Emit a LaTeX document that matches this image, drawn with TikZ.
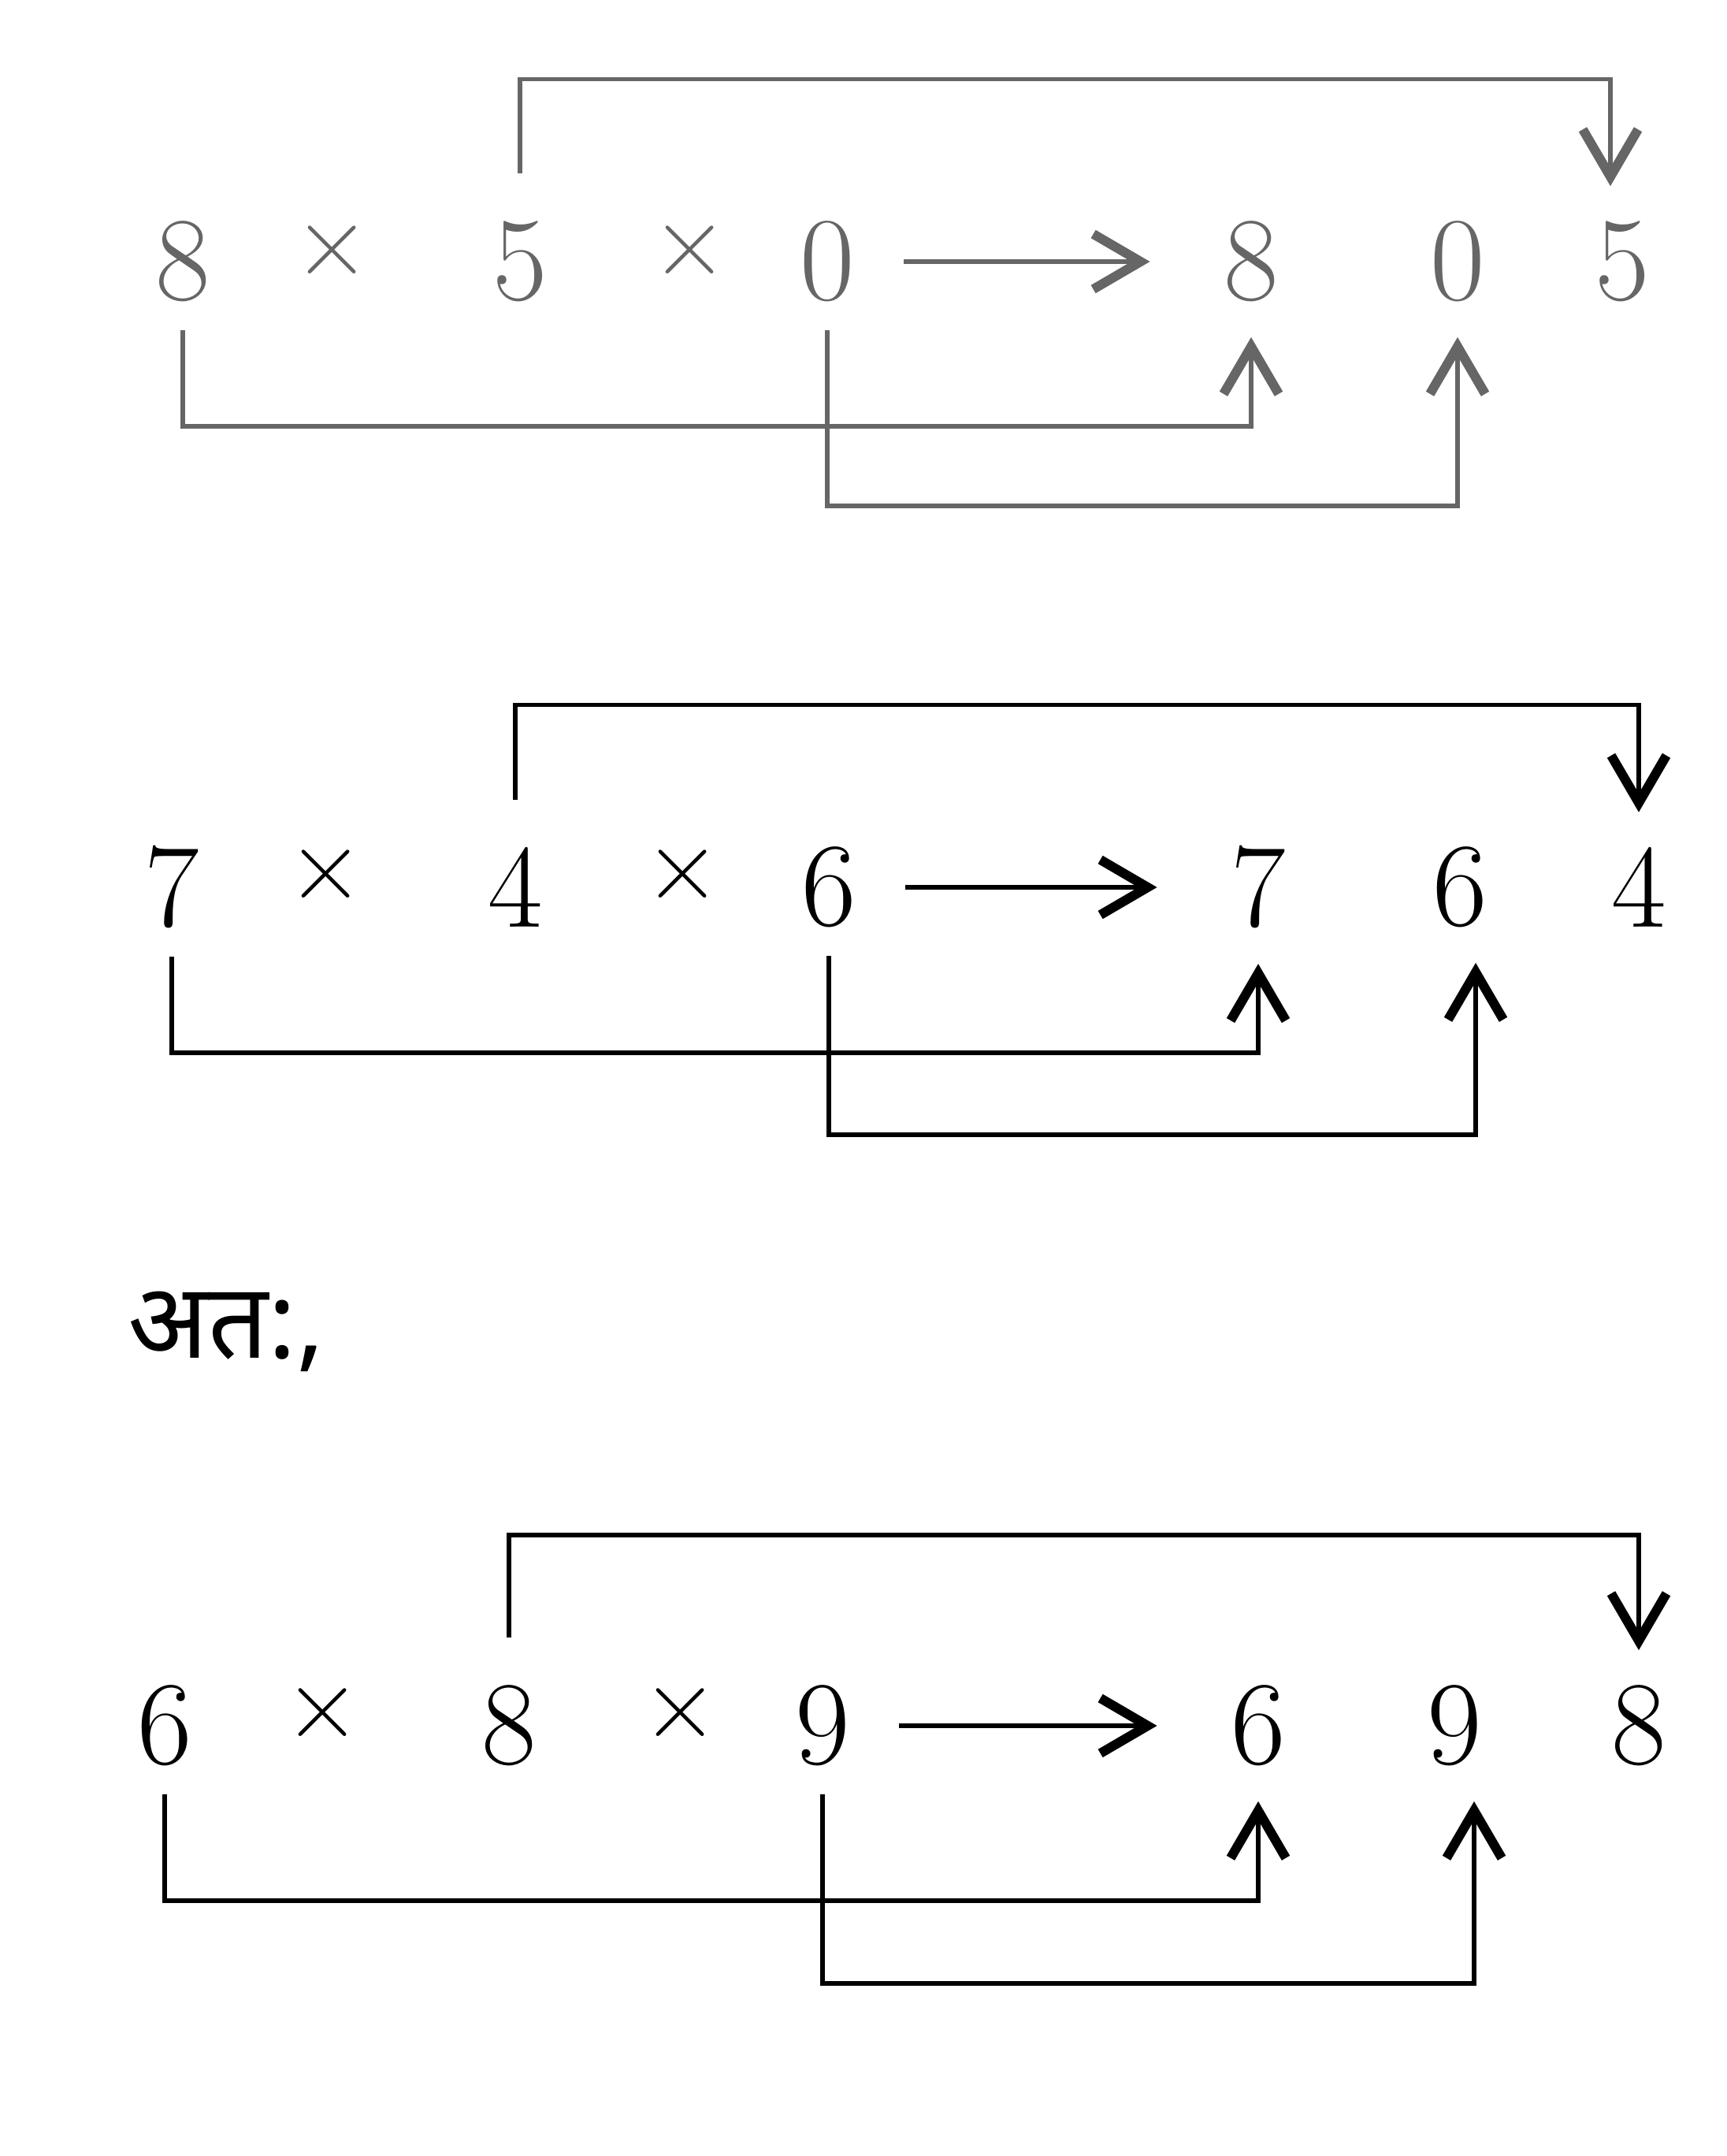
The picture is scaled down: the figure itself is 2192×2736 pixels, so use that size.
\documentclass[tikz,border=0pt]{standalone}
\usepackage{fontspec}
\newfontfamily\hindifont[Script=Devanagari]{Noto Sans}
\usetikzlibrary{arrows.meta}
\begin{document}
\begin{tikzpicture}[x=0.01cm,y=-0.01cm,
  dig/.style={inner sep=0pt,font=\fontsize{43}{45}\selectfont},
  mul/.style={inner sep=0pt,font=\fontsize{38}{40}\selectfont},
  ln/.style={line width=1.5pt},
  tip/.style={-{Straight Barb[length=6mm,width=7mm,line width=3.4pt]}},
  mainarrow/.style={ln,tip,shorten <=0.62cm,shorten >=0.93cm},
  topbr/.style={ln,tip,shorten <=0.6cm,shorten >=0.44cm},
  botbr/.style={ln,tip,shorten <=0.35cm,shorten >=0.44cm},
  faded/.style={black!60}]
\useasboundingbox (0,0) rectangle (2192,2736);

% ---------- row 1 ----------
\begin{scope}[faded]
\node[dig] (a1) at (232,332) {8};
\node[mul] (m1) at (422,318) {×};
\node[dig] (a2) at (660,332) {5};
\node[mul] (m2) at (876,318) {×};
\node[dig] (a3) at (1050,332) {0};
\node[dig] (r1) at (1588,332) {8};
\node[dig] (r2) at (1850,332) {0};
\node[dig] (r3) at (2059,332) {5};
\draw[mainarrow] (a3.east) -- (r1.west);
\draw[topbr] (a2.north) -- ++(0,-180) -| ([xshift=-0.15cm]r3.north);
\draw[botbr] (a1.south) -- ++(0,157) -| (r1.south);
\draw[botbr] (a3.south) -- ++(0,258) -| (r2.south);
\end{scope}

% ---------- row 2 ----------
\node[dig] (b1) at (218,1126) {7};
\node[mul] (n1) at (414,1110) {×};
\node[dig] (b2) at (654,1126) {4};
\node[mul] (n2) at (867,1110) {×};
\node[dig] (b3) at (1052,1126) {6};
\node[dig] (s1) at (1597,1126) {7};
\node[dig] (s2) at (1853,1126) {6};
\node[dig] (s3) at (2080,1126) {4};
\draw[mainarrow] (b3.east) -- (s1.west);
\draw[topbr] (b2.north) -- ++(0,-180) -| (s3.north);
\draw[botbr] (b1.south) -- ++(0,157) -| (s1.south);
\draw[botbr] (b3.south) -- ++(0,262) -| ([xshift=0.2cm]s2.south);

% ---------- text ----------
\node[anchor=west,inner sep=0pt,font=\hindifont\fontsize{38}{40}\selectfont] (atah) at (162,1690) {अत:,};

% ---------- row 3 ----------
\node[dig] (c1) at (209,2190) {6};
\node[mul] (o1) at (410,2174) {×};
\node[dig] (c2) at (646,2190) {8};
\node[mul] (o2) at (864,2174) {×};
\node[dig] (c3) at (1044,2190) {9};
\node[dig] (t1) at (1597,2190) {6};
\node[dig] (t2) at (1846,2190) {9};
\node[dig] (t3) at (2080,2190) {8};
\draw[mainarrow] (c3.east) -- (t1.west);
\draw[topbr] (c2.north) -- ++(0,-190) -| (t3.north);
\draw[botbr] (c1.south) -- ++(0,170) -| (t1.south);
\draw[botbr] (c3.south) -- ++(0,275) -| ([xshift=0.25cm]t2.south);
\end{tikzpicture}
\end{document}
